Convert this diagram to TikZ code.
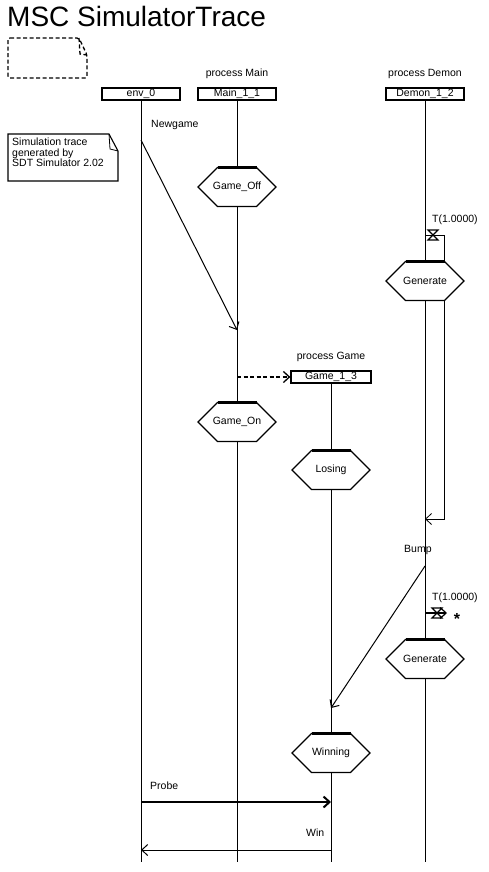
\documentclass[tikz,border=0pt]{standalone}
\usepackage{fontspec}
\setmainfont{Liberation Sans}
\usetikzlibrary{arrows.meta,positioning,calc}
\tikzset{
  >={Straight Barb[length=6pt,width=11pt]},
  txt/.style={font=\fontsize{10.5}{10.5}\selectfont,inner sep=0pt},
  inst/.style={draw,line width=1.3pt,minimum width=78pt,minimum height=12pt,
    inner sep=0pt,txt},
  life/.style={line width=0.8pt},
  msg/.style={->,line width=1pt},
  timer/.style={line width=1.2pt},
  % condition symbol
  pics/cnd/.style={code={
    \draw[fill=white,line width=1.3pt] (-39,0) -- (-19.5,-19.5) -- (19.5,-19.5)
      -- (39,0) -- (19.5,19.5) -- (-19.5,19.5) -- cycle;
    \draw[line width=2.2pt] (-19.5,-19.5) -- (19.5,-19.5);
    \node[txt] (-txt) at (0,0) {#1};
  }},
}
\begin{document}
\begin{tikzpicture}[x=1pt,y=-1pt]
  \useasboundingbox (0,0) rectangle (488,872);
  % title and frame symbol
  \node[anchor=base west,inner sep=0pt,font=\fontsize{28}{28}\selectfont] (title) at (7,27) {MSC SimulatorTrace};
  \draw[dash pattern=on 4pt off 2.5pt,line width=1.3pt,rounded corners=2pt] (8,38) -- (79,38) -- (87,55) -- (87,78) -- (8,78) -- cycle;
  \draw[dash pattern=on 4pt off 2.5pt,line width=1.3pt] (79,38) -- (80,54) -- (87,55);
  % comment
  \draw[line width=1.1pt] (8,134) -- (109,134) -- (118,151) -- (118,181) -- (8,181) -- cycle;
  \draw[line width=0.8pt] (109,134) -- (110,149) -- (118,151);
  \node[txt,anchor=north west,align=left] (note) at (12,138) {Simulation trace\\generated by\\SDT Simulator 2.02};
  % instances
  \node[inst] (env) at (141,94) {env\_0};
  \node[inst] (main) at (237,94) {Main\_1\_1};
  \node[inst] (demon) at (425,94) {Demon\_1\_2};
  \node[inst,minimum width=80pt] (game) at (331,377) {Game\_1\_3};
  \node[txt,above=8pt of main] (pmain) {process Main};
  \node[txt,above=8pt of demon] (pdemon) {process Demon};
  \node[txt,above=8pt of game] (pgame) {process Game};
  \coordinate (bot) at (0,862);
  \foreach \i in {env,main,demon,game}
    \draw[life] (\i.south) -- (\i.south |- bot);
  % timers
  \coordinate (t1) at (425,235);
  \coordinate (t1r) at (425,519);
  \draw[->,life] (t1) -| ($(t1r)+(19,0)$) -- (t1r);
  \draw[timer] (428,230) -- (438,230) -- (428,240) -- (438,240) -- cycle;
  \node[txt,anchor=west] (tl1) at (432,220) {T(1.0000)};
  \coordinate (t2) at (425,613);
  \draw[->,timer] (t2) -- ++(22,0) coordinate (t2e);
  \draw[timer] (432,608) -- (442,608) -- (432,618) -- (442,618) -- cycle;
  \node[txt,anchor=west] (tl2) at (432,598) {T(1.0000)};
  \node[inner sep=0pt,font=\fontsize{16}{16}\selectfont\bfseries] (star) at (457,619) {*};
  % messages
  \coordinate (ng0) at (141,140);
  \coordinate (ng1) at (237,330);
  \draw[msg] (ng0) -- (ng1);
  \node[txt,anchor=west] (lng) at (151,125) {Newgame};
  \draw[msg,line width=1.3pt,dash pattern=on 4pt off 2.5pt] (game.west -| main.south) -- (game.west);
  \coordinate (b0) at (425,566);
  \coordinate (b1) at (331,708);
  \draw[msg] (b0) -- (b1);
  \node[txt,anchor=west] (lb) at (404,550) {Bump};
  \coordinate (p0) at (141,802);
  \coordinate (p1) at (331,802);
  \draw[->,line width=2pt] (p0) -- (p1);
  \node[txt,anchor=west] (lp) at (150,786) {Probe};
  \coordinate (w0) at (331,850);
  \coordinate (w1) at (141,850);
  \draw[msg] (w0) -- (w1);
  \node[txt,anchor=west] (lw) at (306,833) {Win};
  % conditions
  \pic (off) at (237,187) {cnd={Game\_Off}};
  \pic (gen1) at (425,281) {cnd={Generate}};
  \pic (on) at (237,422) {cnd={Game\_On}};
  \pic (lose) at (331,470) {cnd={Losing}};
  \pic (gen2) at (425,659) {cnd={Generate}};
  \pic (winning) at (331,753) {cnd={Winning}};
\end{tikzpicture}
\end{document}
